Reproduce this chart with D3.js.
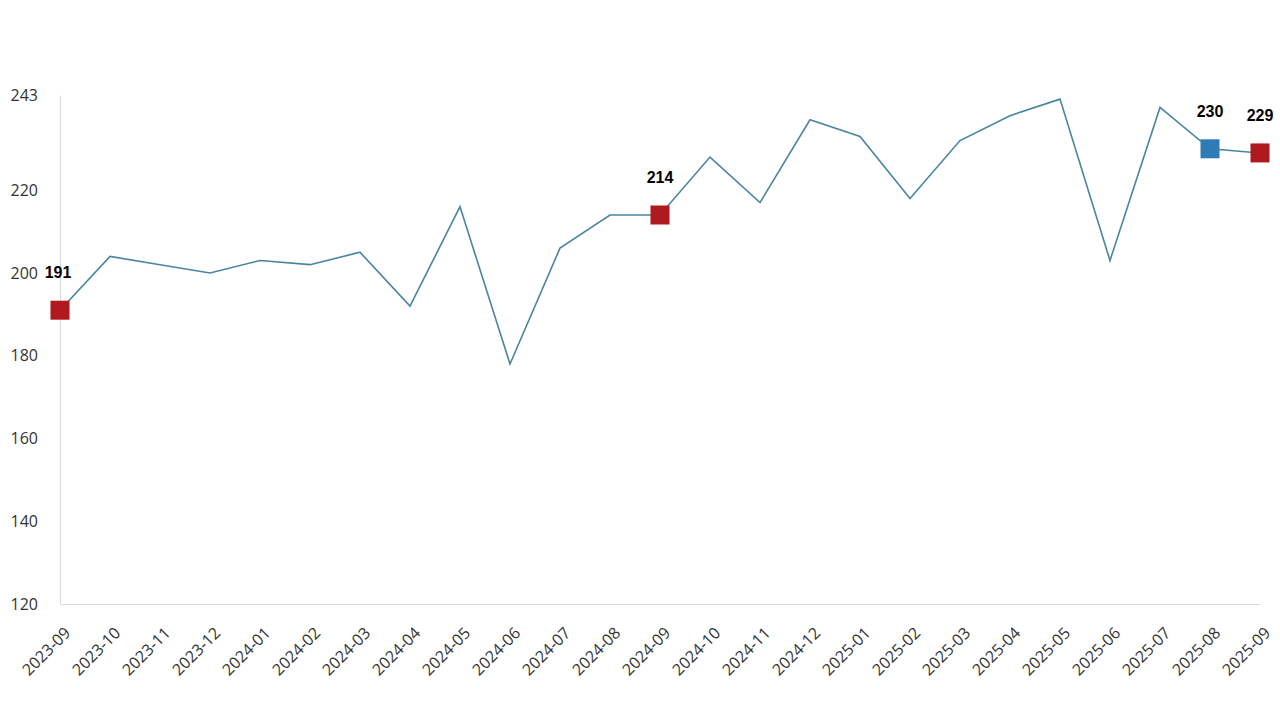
<!DOCTYPE html>
<html>
<head>
<meta charset="utf-8">
<script src="https://cdn.jsdelivr.net/npm/d3@7"></script>
<style>
  html, body { margin: 0; padding: 0; background: #fff; }
  svg { display: block; }
</style>
</head>
<body>
<svg id="chart" width="1280" height="720"></svg>
<script>
const categories = ["2023-09","2023-10","2023-11","2023-12","2024-01","2024-02","2024-03","2024-04","2024-05","2024-06","2024-07","2024-08","2024-09","2024-10","2024-11","2024-12","2025-01","2025-02","2025-03","2025-04","2025-05","2025-06","2025-07","2025-08","2025-09"];
const values = [191,204,202,200,203,202,205,192,216,178,206,214,214,228,217,237,233,218,232,238,242,203,240,230,229];
const yTicks = [120,140,160,180,200,220,243];
const highlights = [
  {cat: "2023-09", label: "191", color: "#B0191E"},
  {cat: "2024-09", label: "214", color: "#B0191E"},
  {cat: "2025-08", label: "230", color: "#2E7BB6"},
  {cat: "2025-09", label: "229", color: "#B0191E"}
];

const svg = d3.select("#chart");
const margin = {left: 60, right: 20, top: 95, bottom: 116};
const W = 1280, H = 720;

const x = d3.scalePoint().domain(categories).range([margin.left, W - margin.right]);
const y = d3.scaleLinear().domain([120, 243]).range([H - margin.bottom, margin.top]);

// y axis
const yAxis = svg.append("g").attr("transform", `translate(${margin.left},0)`)
  .call(d3.axisLeft(y).tickValues(yTicks).tickSize(0).tickPadding(22));
yAxis.select(".domain").attr("stroke", "#d9d9d9");
yAxis.selectAll("text").attr("font-family", "'Open Sans', 'Noto Sans', sans-serif")
  .attr("font-size", 16).attr("fill", "#333");

// x axis
const xAxis = svg.append("g").attr("transform", `translate(0,${H - margin.bottom})`)
  .call(d3.axisBottom(x).tickSize(0).tickPadding(0));
xAxis.select(".domain").attr("stroke", "#d9d9d9");
xAxis.selectAll("text")
  .attr("font-family", "'Open Sans', 'Noto Sans', sans-serif")
  .attr("font-size", 16).attr("fill", "#333")
  .attr("text-anchor", "end")
  .attr("dy", 0)
  .attr("transform", "translate(11,30) rotate(-45)");

// line
const line = d3.line().x((d, i) => x(categories[i])).y(d => y(d));
svg.append("path").datum(values)
  .attr("fill", "none").attr("stroke", "#4A85A0").attr("stroke-width", 1.6)
  .attr("d", line);

// markers
const ms = 19;
svg.selectAll("rect.mk").data(highlights).enter().append("rect")
  .attr("class", "mk")
  .attr("x", d => x(d.cat) - ms / 2)
  .attr("y", d => y(values[categories.indexOf(d.cat)]) - ms / 2)
  .attr("width", ms).attr("height", ms)
  .attr("fill", d => d.color);

svg.selectAll("text.lbl").data(highlights).enter().append("text")
  .attr("class", "lbl")
  .attr("x", d => x(d.cat) - (d.cat === "2023-09" ? 2 : 0))
  .attr("y", d => y(values[categories.indexOf(d.cat)]) - 32)
  .attr("text-anchor", "middle")
  .attr("font-family", "'Liberation Sans', Arial, sans-serif")
  .attr("font-weight", "bold").attr("font-size", 16).attr("fill", "#000")
  .text(d => d.label);
</script>
</body>
</html>
